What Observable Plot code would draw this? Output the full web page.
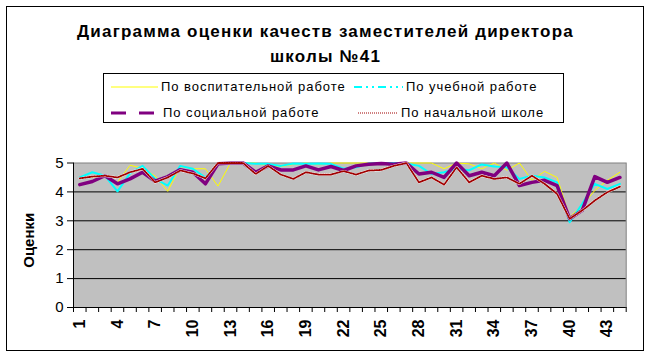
<!DOCTYPE html>
<html><head><meta charset="utf-8">
<script src="https://cdn.jsdelivr.net/npm/d3@7"></script>
<script src="https://cdn.jsdelivr.net/npm/@observablehq/plot@0.6"></script>
<style>
body{margin:0;background:#fff;font-family:"Liberation Sans",Arial,sans-serif;}
#wrap{position:relative;width:651px;height:356px;overflow:hidden;background:#fff;}
#frame{position:absolute;left:6px;top:6px;width:638px;height:345px;box-sizing:border-box;border:1px solid #000;}
#title{position:absolute;left:0;top:19px;width:651px;text-align:center;font-weight:bold;font-size:17px;line-height:25px;letter-spacing:1.2px;color:#000;}
#legend{position:absolute;left:103px;top:73px;width:461px;height:50px;box-sizing:border-box;border:1px solid #000;background:#fff;}
.li{position:absolute;font-size:13px;line-height:16px;letter-spacing:0.95px;white-space:nowrap;color:#000;}
.li svg{position:absolute;}
#plot{position:absolute;left:0;top:140px;}
</style></head>
<body>
<div id="wrap">
<div id="frame"></div>
<div id="title">Диаграмма оценки качеств заместителей директора<br>школы №41</div>
<div id="legend"></div>
<div id="plot"></div>
</div>
<script>
const seriesNames = ["По воспитательной работе","По учебной работе","По социальной работе","По начальной школе"];
const categories = d3.range(1, 45);
const xTickLabels = [1,4,7,10,13,16,19,22,25,28,31,34,37,40,43];
const yTicks = [0,1,2,3,4,5];

const vospit = [4.5,4.5,4.56,4.33,4.92,4.82,4.55,4.02,4.88,4.8,4.8,4.2,5,5,5,4.9,4.88,4.95,5,4.95,5,5,5,5,5,5,5,5,5,4.8,5,4.97,4.8,5,4.75,5,4.4,4.71,4.5,3.13,3.53,4.05,4.4,4.68];
const ucheb  = [4.5,4.68,4.56,4.02,4.64,4.9,4.45,4.22,4.9,4.8,4.5,4.97,5,5,4.97,4.97,4.9,4.98,4.97,4.98,4.97,4.8,4.85,4.98,5,5,4.98,4.9,4.62,4.68,4.8,4.75,4.95,4.88,4.85,4.45,4.56,4.5,4.33,2.95,3.59,4.28,4.1,4.28];
const social = [4.25,4.36,4.56,4.28,4.45,4.68,4.37,4.53,4.77,4.68,4.28,4.97,5,5,4.68,4.9,4.76,4.76,4.9,4.76,4.88,4.74,4.9,4.96,4.98,4.96,5,4.62,4.68,4.5,5,4.56,4.68,4.56,5,4.22,4.33,4.4,4.22,3.07,3.36,4.53,4.33,4.5];
const nachal = [4.47,4.53,4.56,4.5,4.68,4.8,4.33,4.5,4.74,4.64,4.47,5,5,5,4.62,4.9,4.6,4.45,4.68,4.6,4.6,4.72,4.6,4.74,4.76,4.9,5,4.33,4.5,4.25,4.85,4.33,4.56,4.45,4.5,4.28,4.56,4.28,3.93,3.07,3.36,3.7,3.99,4.18];

const colors = ["#ffff00","#00ffff","#800080","#a00000"];
const seriesValues = [vospit, ucheb, social, nachal];
const data = seriesValues.map((vals, s) => categories.map((c, k) => ({cat: c, val: vals[k], s})));

const font = '"Liberation Sans", Arial, sans-serif';
const chart = Plot.plot({
  width: 651, height: 216,
  marginTop: 22.5, marginBottom: 49, marginLeft: 73, marginRight: 25.3,
  style: {fontFamily: font, background: "transparent", color: "#000"},
  x: {domain: [0.5, 44.5], axis: null, label: null},
  y: {domain: [0, 5], axis: null, label: null},
  marks: [
    Plot.frame({fill: "#c0c0c0", stroke: "#808080"}),
    Plot.ruleY([1,2,3,4], {stroke: "#000", strokeWidth: 1}),
    Plot.ruleY([0], {stroke: "#000"}),
    Plot.ruleX([0.5], {stroke: "#000"}),
    Plot.axisY({ticks: yTicks, tickFormat: d => String(d), tickSize: 6, tickPadding: 4, fontSize: 15, label: "Оценки", labelAnchor: "center", labelArrow: "none", labelOffset: 50}),
    Plot.axisX({ticks: d3.range(0.5, 45, 1), tickSize: 5, tickFormat: () => "", label: null}),
    Plot.axisX({ticks: xTickLabels, tickFormat: d => String(d), tickSize: 0, tickPadding: 12, tickRotate: -90, fontSize: 16, fontWeight: "bold", label: null}),
    Plot.line(data[0], {x: "cat", y: "val", stroke: colors[0], strokeWidth: 1}),
    Plot.line(data[1], {x: "cat", y: "val", stroke: colors[1], strokeWidth: 2}),
    Plot.line(data[2], {x: "cat", y: "val", stroke: colors[2], strokeWidth: 3.5}),
    Plot.line(data[3], {x: "cat", y: "val", stroke: "#ffffff", strokeWidth: 2.4}),
    Plot.line(data[3], {x: "cat", y: "val", stroke: colors[3], strokeWidth: 1.8, strokeDasharray: "1.2 1.2"})
  ]
});
chart.querySelectorAll('g[aria-label="y-axis label"]').forEach(g => {
  g.setAttribute("transform", (g.getAttribute("transform") || "") + " translate(0,5)");
  g.querySelectorAll("text").forEach(t => { t.setAttribute("font-weight","bold"); t.setAttribute("font-size","15"); });
});
document.getElementById("plot").appendChild(chart);

// legend
const legendItems = [
  {left: 7, top: 5, sw: 47, tx: 57, stroke: colors[0], w: 1, dash: null},
  {left: 250, top: 5, sw: 49, tx: 302, stroke: colors[1], w: 2, dash: "8 4 2 4 2 4"},
  {left: 7, top: 31, sw: 45, tx: 59, stroke: colors[2], w: 3, dash: "15 13"},
  {left: 254, top: 31, sw: 40, tx: 297, stroke: colors[3], w: 1, dash: "1 1"}
];
const leg = document.getElementById("legend");
legendItems.forEach((it, i) => {
  const d = document.createElement("div");
  d.className = "li";
  d.style.left = it.left + "px";
  d.style.top = it.top + "px";
  d.style.height = "16px";
  const svg = `<svg width="${it.sw}" height="16" style="left:0;top:0"><line x1="0" x2="${it.sw}" y1="8" y2="8" stroke="${it.stroke}" stroke-width="${it.w}" ${it.dash ? `stroke-dasharray="${it.dash}"` : ""}/></svg>`;
  d.innerHTML = svg + `<span style="position:absolute;left:${it.tx - it.left}px;top:0">${seriesNames[i]}</span>`;
  leg.appendChild(d);
});
</script>
</body></html>
